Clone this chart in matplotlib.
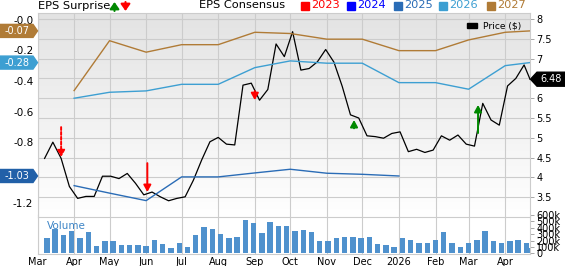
import numpy as np
import pandas as pd
import matplotlib
matplotlib.use('Agg')
import matplotlib.pyplot as plt
from matplotlib.patches import Polygon, Rectangle, FancyArrowPatch
from matplotlib.transforms import IdentityTransform
from matplotlib.colors import LinearSegmentedColormap

plt.rcParams['font.family'] = ['DejaVu Sans']

# weekly closes (fridays), last one is the latest close
price_dates = list(pd.date_range('2025-03-07', periods=59, freq='7D')) + [pd.Timestamp('2026-04-22')]
price = [4.48, 4.89, 4.48, 3.77, 3.47, 3.52, 3.52, 4.03, 4.03, 3.97,
         4.10, 3.85, 3.56, 3.63, 3.51, 3.41, 3.47, 3.51, 3.93, 4.44,
         4.90, 5.01, 4.84, 4.82, 6.33, 6.38, 5.95, 6.22, 7.37, 7.05,
         7.68, 6.71, 6.75, 6.92, 7.23, 6.91, 6.30, 5.58, 5.50, 5.05,
         5.03, 4.99, 5.11, 5.15, 4.65, 4.71, 4.63, 4.69, 5.05, 4.94,
         5.07, 4.84, 4.79, 5.87, 5.45, 5.32, 6.31, 6.50, 6.84, 6.48]

# weekly volume in thousands
vol_dates = [d + pd.Timedelta(days=2) for d in price_dates[:-1]] + [pd.Timestamp('2026-04-23')]
volume = [234, 385, 286, 354, 244, 328, 114, 187, 187, 125,
          135, 130, 120, 213, 146, 83, 161, 99, 286, 411,
          385, 307, 239, 260, 515, 478, 312, 494, 432, 432,
          354, 369, 333, 192, 187, 244, 250, 260, 234, 260,
          146, 130, 99, 244, 218, 166, 156, 213, 328, 161,
          94, 161, 203, 354, 192, 161, 187, 203, 156, 78]

# EPS consensus, monthly
eps_dates = list(pd.date_range('2025-04-01', '2026-04-01', freq='MS')) + [pd.Timestamp('2026-04-22')]
eps_2025 = [-1.084, -1.133, -1.182, -1.027, -1.027, -1.001, -0.977, -1.003, -1.010, -1.021]
eps_2026 = [-0.513, -0.474, -0.465, -0.422, -0.422, -0.313, -0.269, -0.284, -0.284, -0.411, -0.411, -0.454, -0.300, -0.280]
eps_2027 = [-0.463, -0.137, -0.212, -0.163, -0.163, -0.082, -0.090, -0.127, -0.127, -0.202, -0.202, -0.132, -0.082, -0.073]

# eps surprise arrows (price scale)
surprise_dates = ['2025-03-21', '2025-06-02', '2025-09-01', '2025-11-24', '2026-03-09']
surprise_from = [5.27, 4.36, 6.18, 5.24, 5.12]
surprise_to = [4.51, 3.63, 5.95, 5.45, 5.83]
surprise_colors = ['#ff0000', '#ff0000', '#ff0000', '#008800', '#008800']
surprise_styles = [(0, (1.5, 1)), '-', '-', '-', '-']

month_ticks = pd.date_range('2025-03-01', '2026-04-01', freq='MS')
month_labels = ['Mar', 'Apr', 'May', 'Jun', 'Jul', 'Aug', 'Sep', 'Oct', 'Nov', 'Dec', '2026', 'Feb', 'Mar', 'Apr']
price_ticks = [3.5, 4, 4.5, 5, 5.5, 6, 6.5, 7, 7.5, 8]
eps_ticks = [0, -0.2, -0.4, -0.6, -0.8, -1.0, -1.2]
eps_tick_labels = ['-0.0', '-0.2', '-0.4', '-0.6', '-0.8', '-1.0', '-1.2']
vol_ticks = [0, 100, 200, 300, 400, 500, 600]
vol_tick_labels = ['0', '100k', '200k', '300k', '400k', '500k', '600k']

c2025 = '#2a6cb6'
c2026 = '#3d9fd2'
c2027 = '#b07b36'
grid_c = '#cccccc'

W, H = 565, 266
L, R = 37.5, 530
fig = plt.figure(figsize=(W / 100, H / 100), dpi=100)
axv = fig.add_axes([L / W, 1 - 254 / H, (R - L) / W, (254 - 215) / H])
ax = fig.add_axes([L / W, 1 - 217 / H, (R - L) / W, (217 - 13) / H])
ax2 = ax.twinx()

xmin, xmax = pd.Timestamp('2025-03-01'), pd.Timestamp('2026-04-22')

# price axis (right)
grad = LinearSegmentedColormap.from_list('g', ['#e3e3e3', '#ffffff'])
ax.imshow(np.linspace(0, 1, 256).reshape(-1, 1), cmap=grad, aspect='auto',
          extent=(0, 1, 0, 1), transform=ax.transAxes, zorder=0)
ax.plot(price_dates, price, color='black', lw=0.9, zorder=3)
ax.set_xlim(xmin, xmax)
ax.set_ylim(3.0, 8.152)
ax.yaxis.tick_right()
ax.set_yticks(price_ticks)
ax.set_yticklabels([('%g' % t) for t in price_ticks])
ax.tick_params(axis='y', length=3, width=0.6, color='#999999', labelsize=7, pad=1.5)
ax.set_xticks(month_ticks)
ax.tick_params(axis='x', length=0, labelbottom=False)
ax.grid(True, color=grid_c, lw=0.8)
for s in ax.spines.values():
    s.set_color(grid_c)
    s.set_linewidth(0.8)

for d, y0, y1, c, ls in zip(surprise_dates, surprise_from, surprise_to, surprise_colors, surprise_styles):
    ax.annotate('', xy=(pd.Timestamp(d), y1), xytext=(pd.Timestamp(d), y0), zorder=4,
                arrowprops=dict(arrowstyle='-|>,head_length=1.0,head_width=0.55', color=c,
                                lw=1.4, linestyle=ls, mutation_scale=4, shrinkA=0, shrinkB=0))

# eps axis (left)
ax2.plot(eps_dates[:len(eps_2025)], eps_2025, color=c2025, lw=1.0)
ax2.plot(eps_dates, eps_2026, color=c2026, lw=1.0)
ax2.plot(eps_dates, eps_2027, color=c2027, lw=1.0)
ax2.set_ylim(-1.289, 0.044)
ax2.yaxis.tick_left()
ax2.set_yticks(eps_ticks)
ax2.set_yticklabels(eps_tick_labels)
ax2.tick_params(axis='y', length=0, labelsize=7.5, pad=3)
ax2.set_xlim(xmin, xmax)
for s in ax2.spines.values():
    s.set_visible(False)

# volume
axv.bar(vol_dates, volume, width=4.6, color='#4f91cd', zorder=2)
axv.set_xlim(xmin, xmax)
axv.set_ylim(-8, 600)
axv.yaxis.tick_right()
axv.set_yticks(vol_ticks)
axv.set_yticklabels(vol_tick_labels)
axv.tick_params(axis='y', length=3, width=0.6, color='#999999', labelsize=7, pad=1.5)
axv.set_xticks(month_ticks)
axv.set_xticklabels(month_labels)
axv.tick_params(axis='x', length=0, labelsize=7, pad=2)
axv.grid(True, axis='x', color=grid_c, lw=0.8)
for s in axv.spines.values():
    s.set_color(grid_c)
    s.set_linewidth(0.8)
axv.text(0.02, 0.72, 'Volume', transform=axv.transAxes, color='#3d85c6', fontsize=7.5, va='center')

# value tags
def left_tag(yval, text, color):
    y = ax2.transData.transform((0, yval))[1]
    pts = [(0, y - 6.5), (33, y - 6.5), (37.5, y), (33, y + 6.5), (0, y + 6.5)]
    fig.add_artist(Polygon(pts, closed=True, color=color, transform=IdentityTransform(), zorder=10))
    fig.text(17 / W, y / H, text, color='white', fontsize=7, ha='center', va='center', zorder=11)

left_tag(eps_2027[-1], '-0.07', c2027)
left_tag(eps_2026[-1], '-0.28', c2026)
left_tag(eps_2025[-1], '-1.03', '#2160a8')

yp = ax.transData.transform((0, price[-1]))[1]
pts = [(530.5, yp), (537, yp - 7), (565, yp - 7), (565, yp + 7), (537, yp + 7)]
fig.add_artist(Polygon(pts, closed=True, color='black', transform=IdentityTransform(), zorder=10))
fig.text(551 / W, yp / H, '%.2f' % price[-1], color='white', fontsize=7, ha='center', va='center', zorder=11)

# header legend
fig.text(38 / W, 1 - 6 / H, 'EPS Surprise', fontsize=8.2, va='center')
fig.add_artist(FancyArrowPatch((114.5, H - 11), (114.5, H - 2), transform=IdentityTransform(),
               arrowstyle='-|>,head_length=1.0,head_width=0.7', mutation_scale=4, color='#008800', lw=1.5,
               shrinkA=0, shrinkB=0))
fig.add_artist(FancyArrowPatch((125.5, H - 2), (125.5, H - 11), transform=IdentityTransform(),
               arrowstyle='-|>,head_length=1.0,head_width=0.7', mutation_scale=4, color='#ff0000', lw=1.5,
               shrinkA=0, shrinkB=0))
fig.text(199 / W, 1 - 5.5 / H, 'EPS Consensus', fontsize=8.2, va='center')
legend_years = ['2023', '2024', '2025', '2026', '2027']
legend_colors = ['#ff0000', '#0000ff', c2025, c2026, c2027]
legend_x = [301, 347, 394, 439, 487]
for yr, c, x in zip(legend_years, legend_colors, legend_x):
    fig.add_artist(Rectangle((x, H - 9.5), 8, 8, color=c, transform=IdentityTransform()))
    fig.text((x + 10.5) / W, 1 - 5.5 / H, yr, color=c, fontsize=8.2, va='center')

fig.add_artist(Rectangle((467, H - 27.5), 10, 4.5, color='black', transform=IdentityTransform(), zorder=5))
fig.text(483 / W, 1 - 25.5 / H, 'Price ($)', fontsize=6.6, va='center')

fig.savefig('out.png', dpi=100)
